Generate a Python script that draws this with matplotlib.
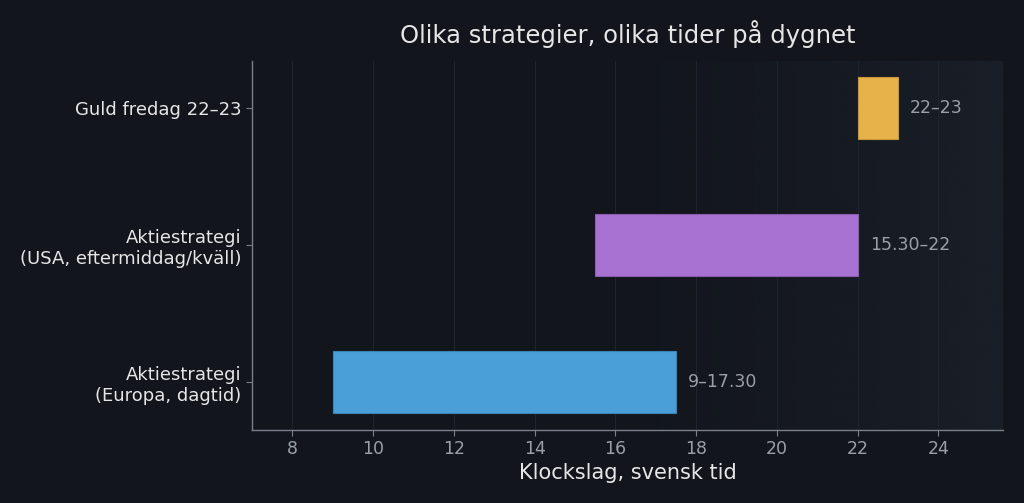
import matplotlib
matplotlib.use("Agg")
import matplotlib.pyplot as plt
import numpy as np

plt.rcParams["font.family"] = ["DejaVu Sans"]

categories = ["Aktiestrategi\n(Europa, dagtid)", "Aktiestrategi\n(USA, eftermiddag/kväll)", "Guld fredag 22–23"]
starts = [9.0, 15.5, 22.0]
ends = [17.5, 22.0, 23.0]
labels = ["9–17.30", "15.30–22", "22–23"]
colors = ["#4a9fd8", "#a772d1", "#e8b24a"]
xticks = [8, 10, 12, 14, 16, 18, 20, 22, 24]

BG = "#12151c"
fig = plt.figure(figsize=(10.24, 5.03), dpi=100, facecolor=BG)
ax = fig.add_axes([252/1024, 1-430/503, (1003-252)/1024, (430-61)/503])
ax.set_facecolor(BG)

# gradient background
grad = np.linspace(0, 1, 256)
alpha = np.clip((grad - 0.45) / 0.55, 0, 1) ** 1.3
img = np.zeros((1, 256, 4))
c2 = np.array([0x1a, 0x1f, 0x28]) / 255
img[0, :, :3] = c2
img[0, :, 3] = alpha
ax.imshow(img, extent=[0, 1, 0, 1], transform=ax.transAxes, aspect="auto", zorder=0, interpolation="bilinear")

y = np.arange(len(categories))
widths = [e - s for s, e in zip(starts, ends)]
ax.barh(y, widths, left=starts, height=0.45, color=colors,
        edgecolor=["#3a84b8", "#8c5cb0", "#c99838"], linewidth=0.8, zorder=3)
for yi, e, lab in zip(y, ends, labels):
    ax.text(e + 0.3, yi, lab, va="center", ha="left", color="#9aa0a8", fontsize=12.5, zorder=4)

ax.set_xlim(7.0, 25.6)
ax.set_ylim(-0.35, 2.343)
ax.set_xticks(xticks)
ax.set_yticks(y)
ax.set_yticklabels(categories, color="#e6e6e6", fontsize=13)
ax.tick_params(axis="x", colors="#9aa0a8", labelsize=12.5, length=4, color="#7a7f88")
ax.tick_params(axis="y", colors="#7a7f88", labelcolor="#e6e6e6", length=4)
ax.grid(axis="x", color="#1e232c", linewidth=0.8, zorder=1)
ax.set_axisbelow(True)
for s in ["top", "right"]:
    ax.spines[s].set_visible(False)
for s in ["left", "bottom"]:
    ax.spines[s].set_color("#7a7f88")
    ax.spines[s].set_linewidth(1.0)

ax.set_xlabel("Klockslag, svensk tid", color="#e6e6e6", fontsize=15, labelpad=3)
ax.set_title("Olika strategier, olika tider på dygnet", color="#e6e6e6", fontsize=17.5, pad=13)

fig.savefig("out.png", dpi=100, facecolor=BG)
